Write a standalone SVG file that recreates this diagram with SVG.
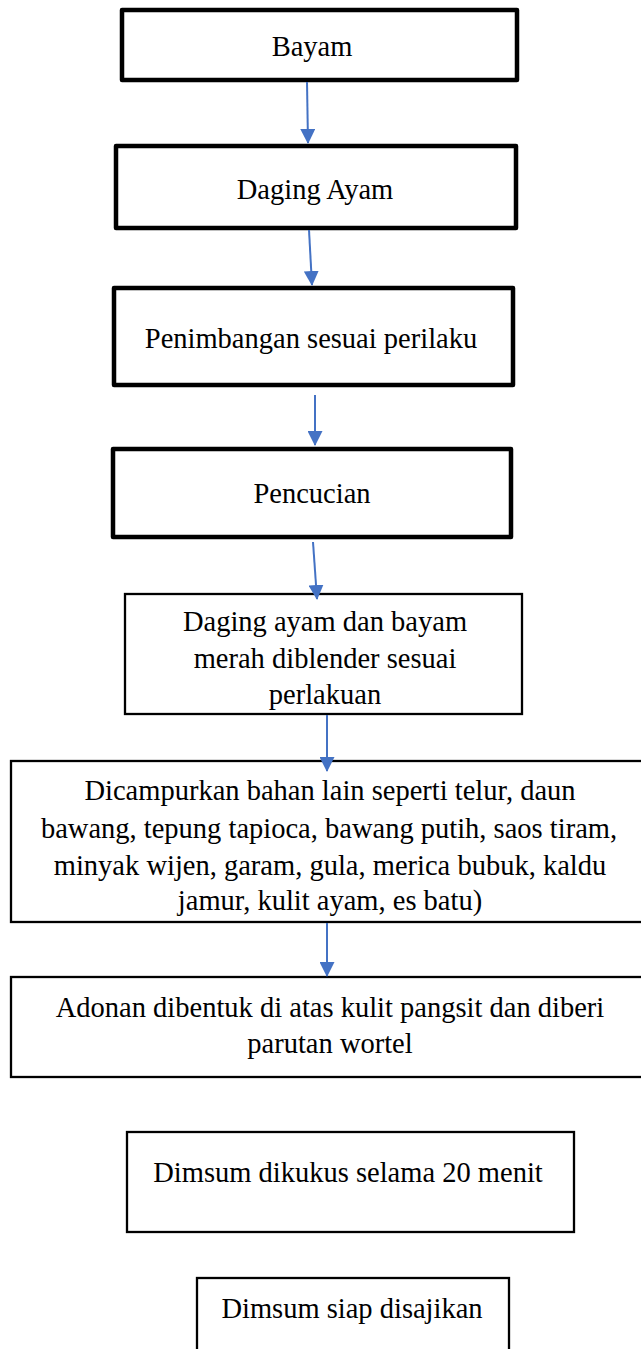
<svg xmlns="http://www.w3.org/2000/svg" width="641" height="1349" viewBox="0 0 641 1349">
<style>
  .thick { fill: #fff; stroke: #000; stroke-width: 4.5; stroke-linejoin: round; }
  .thin { fill: #fff; stroke: #000; stroke-width: 2.3; }
  text { font-family: "Liberation Serif", "Times New Roman", serif; font-size: 28.5px; fill: #000; text-anchor: middle; }
  .conn line { stroke: #4472C4; stroke-width: 2; marker-end: url(#ah); }
</style>
<defs>
  <marker id="ah" markerWidth="15" markerHeight="15" refX="14" refY="7.5" orient="auto" markerUnits="userSpaceOnUse" viewBox="0 0 15 15">
    <path d="M0,0 L15,7.5 L0,15 Z" fill="#4472C4"/>
  </marker>
</defs>
<rect width="641" height="1349" fill="#fff"/>
<g id="n1"><rect class="thick" x="122" y="10" width="395" height="70"/><text x="312" y="56">Bayam</text></g>
<g id="n2"><rect class="thick" x="116" y="146" width="400" height="82"/><text x="315" y="199">Daging Ayam</text></g>
<g id="n3"><rect class="thick" x="114" y="288" width="399" height="97"/><text x="311" y="348">Penimbangan sesuai perilaku</text></g>
<g id="n4"><rect class="thick" x="113" y="449" width="398" height="88"/><text x="312" y="503">Pencucian</text></g>
<g id="n5"><rect class="thin" x="125" y="594" width="397" height="120"/>
  <text x="325" y="631">Daging ayam dan bayam</text>
  <text x="325" y="668">merah diblender sesuai</text>
  <text x="325" y="704">perlakuan</text></g>
<g id="n6"><rect class="thin" x="11" y="761" width="640" height="161"/>
  <text x="330" y="800">Dicampurkan bahan lain seperti telur, daun</text>
  <text x="329" y="838">bawang, tepung tapioca, bawang putih, saos tiram,</text>
  <text x="330" y="875">minyak wijen, garam, gula, merica bubuk, kaldu</text>
  <text x="330" y="910">jamur, kulit ayam, es batu)</text></g>
<g id="n7"><rect class="thin" x="11" y="977" width="640" height="100"/>
  <text x="330" y="1017">Adonan dibentuk di atas kulit pangsit dan diberi</text>
  <text x="330" y="1053">parutan wortel</text></g>
<g id="n8"><rect class="thin" x="127" y="1132" width="447" height="100"/><text x="348" y="1182">Dimsum dikukus selama 20 menit</text></g>
<g id="n9"><rect class="thin" x="197" y="1278" width="312" height="90"/><text x="352" y="1318">Dimsum siap disajikan</text></g>
<g id="connectors" class="conn">
  <line x1="307" y1="82" x2="308" y2="143"/>
  <line x1="309" y1="230" x2="312" y2="285"/>
  <line x1="315" y1="395" x2="315" y2="445"/>
  <line x1="313" y1="542" x2="317" y2="599"/>
  <line x1="327" y1="715" x2="327" y2="771"/>
  <line x1="327" y1="923" x2="327" y2="976"/>
</g>
</svg>
